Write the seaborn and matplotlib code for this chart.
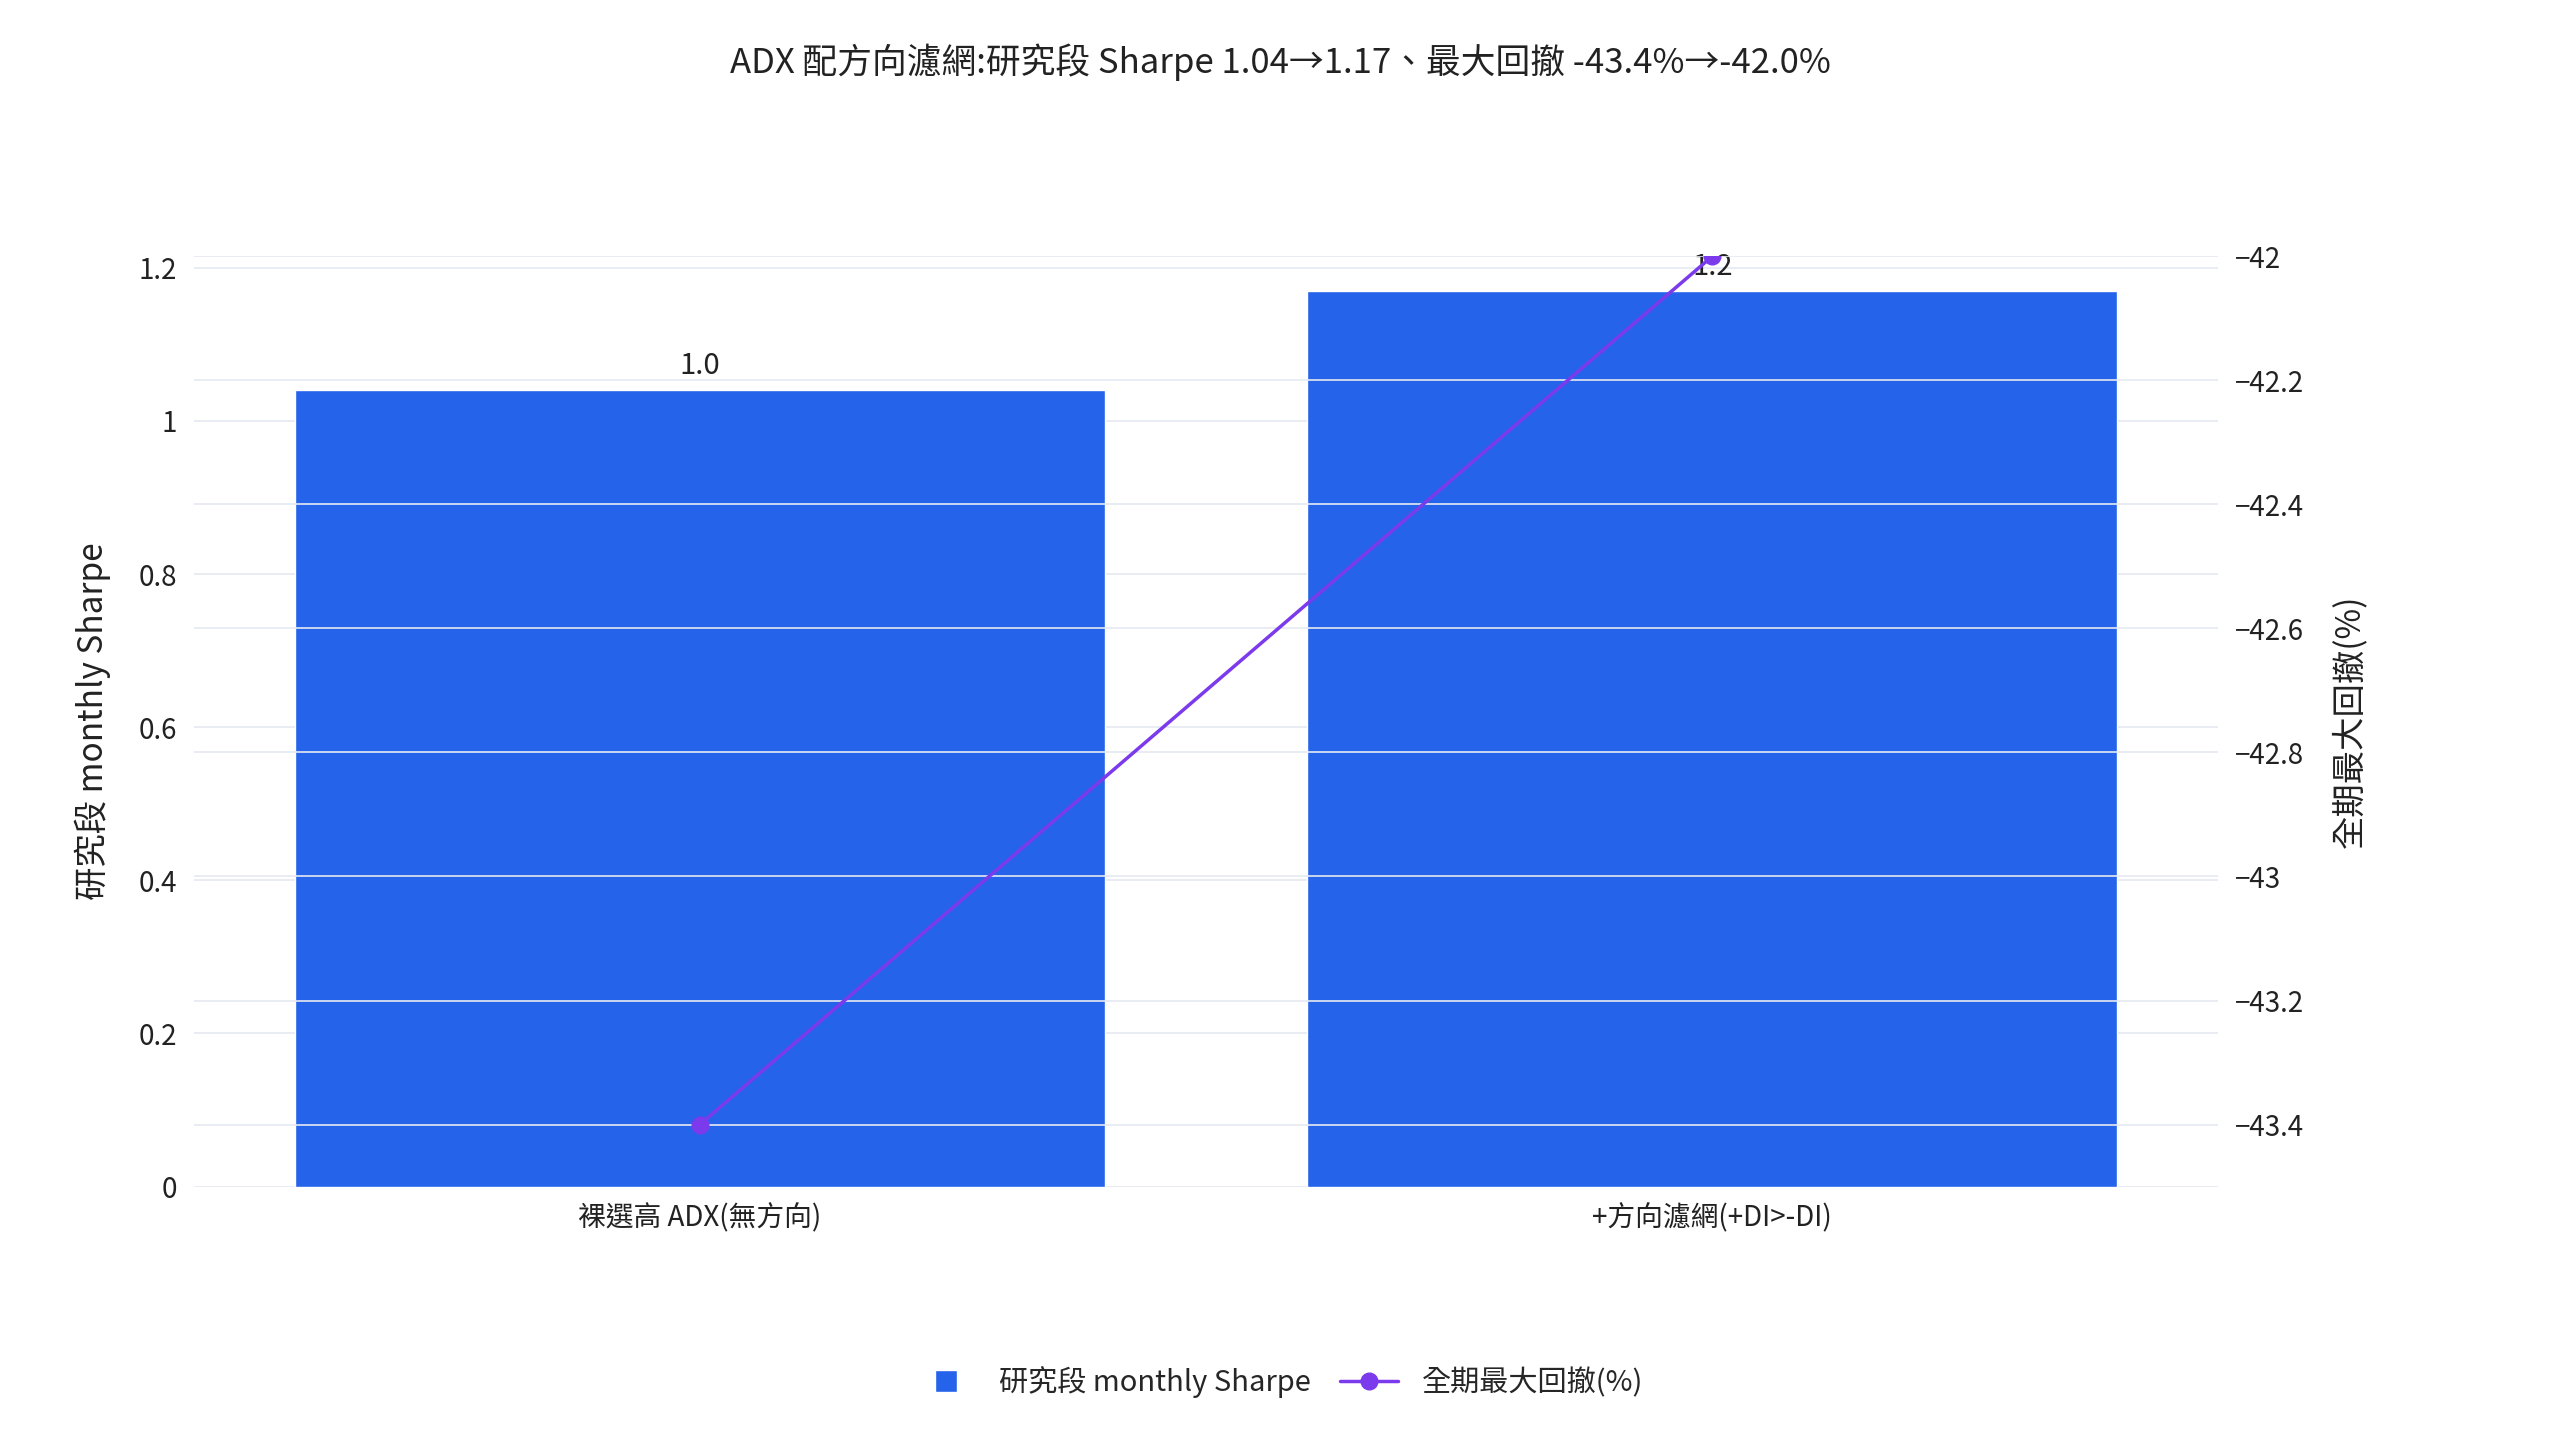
import numpy as np
import pandas as pd
import matplotlib
matplotlib.use('Agg')
import matplotlib.pyplot as plt
import seaborn as sns
from matplotlib.lines import Line2D
from matplotlib.patches import Patch

categories = ['裸選高 ADX(無方向)', '+方向濾網(+DI>-DI)']
sharpe = [1.04, 1.17]
sharpe_labels = ['1.0', '1.2']
max_dd = [-43.4, -42.0]

sns.set_theme(style='white')
plt.rcParams['font.family'] = ['Noto Sans CJK TC', 'DejaVu Sans']

bar_color = '#2563EB'
line_color = '#7C3AED'
grid_color = '#E6E9F2'

fig = plt.figure(figsize=(25.6, 14.4), dpi=100)
ax = fig.add_axes([0.0756, 0.176, 0.791, 0.646])

df = pd.DataFrame({'cat': categories, 'sharpe': sharpe})
sns.barplot(data=df, x='cat', y='sharpe', color=bar_color, width=0.8, saturation=1, ax=ax)
for i, (v, lab) in enumerate(zip(sharpe, sharpe_labels)):
    ax.text(i, v + 0.012, lab, ha='center', va='bottom', fontsize=21, color='#222')
ax.set_ylim(0, 1.215)
ax.set_xlim(-0.5, 1.5)
ax.set_yticks([0, 0.2, 0.4, 0.6, 0.8, 1.0, 1.2])
ax.set_yticklabels(['0', '0.2', '0.4', '0.6', '0.8', '1', '1.2'])
ax.set_xlabel('')
ax.set_ylabel('研究段 monthly Sharpe', fontsize=24, color='#222', labelpad=20)
ax.tick_params(axis='both', labelsize=20, colors='#222', length=0, pad=12)
ax.yaxis.grid(True, color=grid_color, linewidth=1.2)
ax.set_axisbelow(True)
for s in ax.spines.values():
    s.set_visible(False)

ax2 = ax.twinx()
ax2.plot(range(len(categories)), max_dd, color=line_color, linewidth=2.5,
         marker='o', markersize=12, zorder=5)
ax2.set_ylim(-43.5, -42.0)
ax2.set_yticks([-43.4, -43.2, -43, -42.8, -42.6, -42.4, -42.2, -42])
ax2.set_yticklabels(['−43.4', '−43.2', '−43', '−42.8', '−42.6', '−42.4', '−42.2', '−42'])
ax2.tick_params(axis='y', labelsize=20, colors='#222', length=0, pad=12)
ax2.set_ylabel('全期最大回撤(%)', fontsize=24, color='#222', labelpad=20)
ax2.yaxis.grid(True, color=grid_color, linewidth=1.2)
for s in ax2.spines.values():
    s.set_visible(False)

fig.suptitle('ADX 配方向濾網:研究段 Sharpe 1.04→1.17、最大回撤 -43.4%→-42.0%',
             fontsize=25, color='#222', y=0.97)

handles = [Line2D([0], [0], marker='s', color='w', markerfacecolor=bar_color, markersize=16, linestyle='None'),
           Line2D([0], [0], color=line_color, marker='o', markersize=12, linewidth=2.5)]
fig.legend(handles, ['研究段 monthly Sharpe', '全期最大回撤(%)'], loc='center',
           bbox_to_anchor=(0.5, 0.04), ncol=2, frameon=False, fontsize=21,
           handlelength=2, columnspacing=1.0)

fig.savefig('out.png', dpi=100, facecolor='white')
